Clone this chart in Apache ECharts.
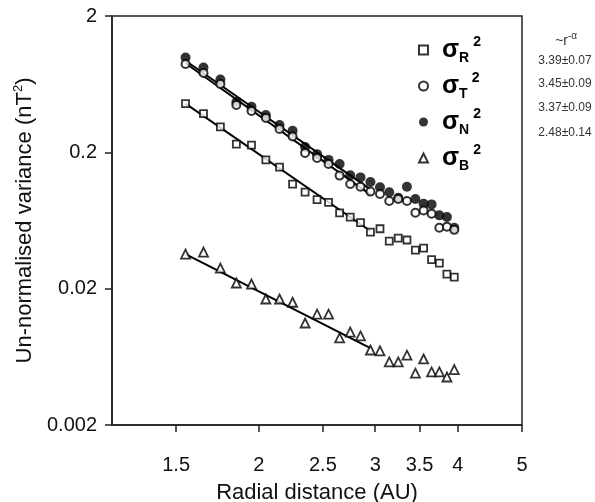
<!DOCTYPE html>
<html>
<head>
<meta charset="utf-8">
<script src="https://cdn.jsdelivr.net/npm/echarts@6/dist/echarts.min.js"></script>
<style>
  html, body { margin: 0; padding: 0; background: #fff; }
  #chart { width: 595px; height: 502px; }
</style>
</head>
<body>
<div id="chart"></div>
<script>
// radial distance of each bin (AU)
var radius = [1.55, 1.65, 1.75, 1.85, 1.95, 2.05, 2.15, 2.25, 2.35, 2.45, 2.55, 2.65, 2.75,
              2.85, 2.95, 3.05, 3.15, 3.25, 3.35, 3.45, 3.55, 3.65, 3.75, 3.85, 3.95];

// un-normalised variance (nT^2)
var varR = [0.456, 0.385, 0.307, 0.230, 0.226, 0.176, 0.156, 0.117, 0.102, 0.090, 0.086, 0.072, 0.067,
            0.061, 0.052, 0.055, 0.0447, 0.047, 0.0455, 0.0384, 0.0397, 0.0327, 0.0308, 0.0256, 0.0243];
var varT = [0.889, 0.763, 0.634, 0.445, 0.402, 0.357, 0.297, 0.261, 0.198, 0.182, 0.164, 0.135, 0.117,
            0.112, 0.103, 0.099, 0.088, 0.091, 0.088, 0.072, 0.075, 0.071, 0.056, 0.057, 0.054];
var varN = [0.992, 0.838, 0.684, 0.468, 0.432, 0.376, 0.317, 0.288, 0.219, 0.194, 0.176, 0.164, 0.136,
            0.131, 0.121, 0.111, 0.102, 0.093, 0.112, 0.091, 0.084, 0.083, 0.069, 0.067, 0.056];
var varB = [0.0359, 0.0371, 0.0283, 0.0220, 0.0216, 0.0168, 0.0168, 0.0159, 0.0112, 0.0130, 0.0130, 0.0087, 0.0096,
            0.0090, 0.0071, 0.0070, 0.0058, 0.0058, 0.0065, 0.0048, 0.0061, 0.0049, 0.0049, 0.0045, 0.0051];

// power-law fits (end points)
var fitR = [[1.55, 0.455], [2.95, 0.053]];
var fitT = [[1.55, 0.90], [2.95, 0.098]];
var fitN = [[1.55, 0.94], [2.95, 0.107]];
var fitB = [[1.55, 0.0359], [2.95, 0.00733]];

var names = ['R', 'T', 'N', 'B'];
var slopes = ['3.39\u00b10.07', '3.45\u00b10.09', '3.37\u00b10.09', '2.48\u00b10.14'];
var xTicks = [1.5, 2, 2.5, 3, 3.5, 4, 5];
var yTicks = [0.002, 0.02, 0.2, 2];

var FONT = 'Liberation Sans, Arial, sans-serif';
var INK = '#111';

function pairs(ys) {
    return radius.map(function (r, i) { return [r, ys[i]]; });
}

function fitLine(name, pts) {
    return {
        name: name + 'fit', type: 'line', data: pts, symbol: 'none', silent: true, z: 1,
        lineStyle: { color: '#000', width: 2 }
    };
}

function label(txt, x, y, size, align) {
    return {
        type: 'text', x: x, y: y,
        style: { text: txt, fontSize: size, fontFamily: FONT, fill: '#333', align: align, verticalAlign: 'middle' }
    };
}

var chart = echarts.init(document.getElementById('chart'), null, { renderer: 'canvas' });

var annot = [label('~r', 568, 41, 14, 'right'), label('-\u03b1', 568, 36, 10, 'left')];
slopes.forEach(function (s, i) {
    annot.push(label(s, 565, [61, 84, 108, 133][i], 12, 'center'));
});

chart.setOption({
    animation: false,
    backgroundColor: '#fff',
    grid: { left: 112, right: 73, top: 16, bottom: 77, outerBoundsMode: 'none',
            show: true, borderColor: '#222', borderWidth: 1.5 },
    xAxis: {
        type: 'log', logBase: 10, min: 1.2, max: 5,
        name: 'Radial distance (AU)', nameLocation: 'middle', nameGap: 57,
        nameTextStyle: { fontFamily: FONT, fontSize: 22, color: INK },
        axisLine: { lineStyle: { color: '#222', width: 1.5 } },
        axisTick: { customValues: xTicks, length: 7, lineStyle: { color: '#222', width: 1.5 } },
        axisLabel: { customValues: xTicks, margin: 30, fontFamily: FONT, fontSize: 20, color: INK,
                     formatter: function (v) { return String(+(+v).toPrecision(3)); } },
        splitLine: { show: false }, minorTick: { show: false }
    },
    yAxis: {
        type: 'log', logBase: 10, min: 0.002, max: 2,
        name: '{a|Un-normalised variance (nT}{s|2}{a|)}', nameLocation: 'middle', nameGap: 73,
        nameTextStyle: { rich: {
            a: { fontFamily: FONT, fontSize: 22, color: INK },
            s: { fontFamily: FONT, fontSize: 13, color: INK, verticalAlign: 'top', lineHeight: 26 }
        } },
        axisLine: { lineStyle: { color: '#222', width: 1.5 } },
        axisTick: { customValues: yTicks, length: 7, lineStyle: { color: '#222', width: 1.5 } },
        axisLabel: { customValues: yTicks, margin: 15, fontFamily: FONT, fontSize: 20, color: INK,
                     formatter: function (v) { return String(+(+v).toPrecision(2)); } },
        splitLine: { show: false }, minorTick: { show: false }
    },
    legend: {
        data: names, orient: 'vertical', left: 413, top: 30,
        itemWidth: 9, itemHeight: 9, itemGap: 6,
        formatter: function (n) { return '{s|\u03c3}{b|' + n + '}{p|2}'; },
        textStyle: { rich: {
            s: { fontFamily: FONT, fontSize: 25, fontWeight: 'bold', color: '#000', lineHeight: 30, padding: [0, 0, 0, 9] },
            b: { fontFamily: FONT, fontSize: 14, fontWeight: 'bold', color: '#000', verticalAlign: 'bottom', lineHeight: 30 },
            p: { fontFamily: FONT, fontSize: 14, fontWeight: 'bold', color: '#000', verticalAlign: 'top', lineHeight: 30, padding: [0, 0, 0, 4] }
        } }
    },
    graphic: annot,
    series: [
        fitLine('R', fitR), fitLine('T', fitT), fitLine('N', fitN), fitLine('B', fitB),
        { name: 'R', type: 'scatter', data: pairs(varR), symbol: 'rect', symbolSize: 7, z: 3,
          itemStyle: { color: '#fff', borderColor: '#000', borderWidth: 1.8 } },
        { name: 'N', type: 'scatter', data: pairs(varN), symbol: 'circle', symbolSize: 10, z: 3,
          itemStyle: { color: '#000' } },
        { name: 'T', type: 'scatter', data: pairs(varT), symbol: 'circle', symbolSize: 8, z: 4,
          itemStyle: { color: '#fff', borderColor: '#000', borderWidth: 2 } },
        { name: 'B', type: 'scatter', data: pairs(varB), symbol: 'triangle', symbolSize: 9, z: 3,
          itemStyle: { color: '#fff', borderColor: '#000', borderWidth: 1.8 } }
    ]
});
</script>
</body>
</html>
